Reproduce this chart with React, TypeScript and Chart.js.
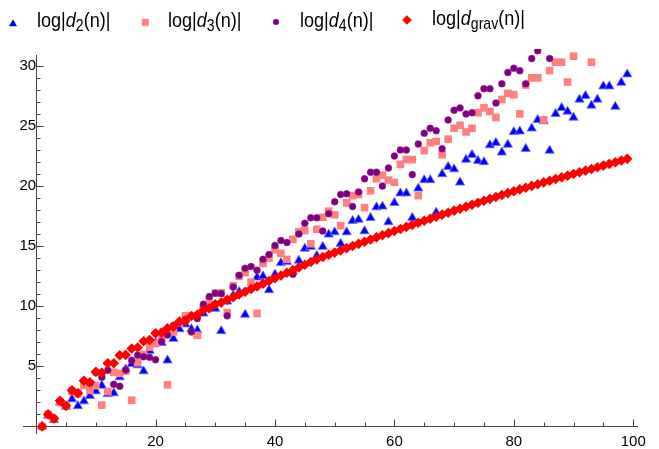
import React, { useEffect, useRef } from "react";
import { Chart, registerables } from "chart.js";

Chart.register(...registerables);

// n = 1..99
const N: number[] = Array.from({ length: 99 }, (_, i) => i + 1);

const D2: number[] = [
  0.0, 0.9, 0.55, 2.0, 1.65, 2.27, 1.7, 2.1, 2.55, 2.93,
  3.4, 2.7, 2.77, 4.1, 4.75, 5.2, 5.1, 4.6, 6.3, 6.95,
  6.95, 5.5, 7.3, 8.1, 8.5, 8.1, 8.0, 9.4, 10.0, 9.8,
  7.94, 10.4, 10.9, 11.2, 9.3, 11.6, 12.4, 12.5, 11.35, 12.65,
  13.6, 13.7, 12.9, 13.8, 14.8, 14.95, 14.2, 14.95, 15.97, 16.16,
  15.2, 16.16, 17.1, 17.2, 16.25, 17.35, 18.24, 18.3, 17.0, 18.6,
  19.4, 19.4, 17.36, 19.8, 20.5, 20.5, 17.8, 21.0, 21.6, 21.4,
  20.3, 22.2, 22.6, 22.1, 22.0, 23.4, 23.6, 22.8, 23.45, 24.5,
  24.55, 23.1, 24.8, 25.5, 25.4, 22.95, 26.0, 26.5, 26.2, 25.7,
  27.2, 27.5, 26.7, 27.2, 28.3, 28.3, 26.6, 28.6, 29.3,
];

const D3: number[] = [
  0.0, 1.0, 0.6, 2.0, 1.7, 2.9, 2.7, 3.4, 3.0, 3.4,
  1.77, 2.9, 4.5, 4.4, 4.6, 2.18, 5.3, 6.0, 6.6, 6.9,
  7.3, 3.46, 7.86, 8.6, 9.2, 9.2, 7.58, 9.8, 10.4, 11.1,
  11.1, 9.47, 11.7, 12.5, 12.8, 12.0, 9.4, 13.56, 14.0, 14.7,
  14.4, 13.9, 15.56, 16.2, 16.3, 15.2, 16.4, 17.4, 17.9, 17.6,
  16.7, 18.6, 19.2, 19.3, 18.2, 19.6, 20.6, 20.9, 20.5, 20.3,
  21.8, 22.2, 22.2, 19.2, 22.95, 23.6, 23.7, 22.6, 23.9, 24.8,
  25.05, 24.5, 24.8, 26.1, 26.5, 26.2, 25.7, 27.2, 27.7, 27.6,
  26.0, 28.4, 29.0, 29.0, 25.5, 29.6, 30.3, 30.3, 28.65, 30.8,
  31.7, 31.9, 30.3, 31.9, 32.3, 32.6, 31.8, 33.0, 33.3,
];

const D4: number[] = [
  0.0, 1.0, 0.6, 2.1, 1.7, 3.0, 2.8, 3.8, 3.6, 4.48,
  4.1, 4.68, 3.5, 3.35, 4.7, 5.5, 5.92, 5.8, 5.75, 5.55,
  7.06, 7.6, 8.4, 8.7, 8.9, 7.86, 8.97, 10.16, 10.8, 11.07,
  11.05, 9.2, 11.6, 12.57, 13.15, 13.3, 13.0, 13.9, 14.3, 15.06,
  15.47, 15.3, 12.65, 16.0, 16.9, 17.36, 17.36, 16.25, 17.7, 18.7,
  19.3, 19.35, 18.3, 19.5, 20.6, 21.15, 21.15, 20.0, 21.5, 22.5,
  23.0, 23.0, 20.95, 23.5, 24.4, 24.8, 24.6, 23.1, 25.5, 26.3,
  26.5, 26.0, 26.1, 27.5, 28.1, 28.1, 26.9, 28.5, 29.45, 29.8,
  29.6, 28.5, 30.6, 31.25, 31.35, 30.6, 31.5, 32.0, 32.2, 32.0,
  31.45, 32.6, 32.9, 33.1, 32.4, 33.5, 33.8, 34.0, 34.2,
];

const DGRAV: number[] = [
  0.0, 1.0, 0.66, 2.13, 1.71, 3.0, 2.77, 3.8, 3.68, 4.54,
  4.48, 5.26, 5.26, 5.92, 5.95, 6.48, 6.56, 7.08, 7.19, 7.75,
  7.8, 8.16, 8.3, 8.72, 8.77, 9.19, 9.3, 9.66, 9.83, 10.16,
  10.3, 10.53, 10.75, 10.98, 11.2, 11.43, 11.65, 11.88, 12.1, 12.33,
  12.55, 12.78, 13.0, 13.23, 13.45, 13.68, 13.9, 14.09, 14.28, 14.46,
  14.65, 14.83, 15.01, 15.19, 15.37, 15.55, 15.73, 15.91, 16.08, 16.26,
  16.43, 16.6, 16.77, 16.94, 17.11, 17.28, 17.45, 17.62, 17.78, 17.95,
  18.11, 18.28, 18.44, 18.61, 18.77, 18.93, 19.09, 19.25, 19.41, 19.57,
  19.72, 19.86, 20.01, 20.15, 20.3, 20.44, 20.58, 20.72, 20.86, 21.0,
  21.14, 21.28, 21.42, 21.56, 21.7, 21.84, 21.98, 22.12, 22.26,
];

const X_LABEL_TICKS = [20, 40, 60, 80, 100];
const Y_LABEL_TICKS = [5, 10, 15, 20, 25, 30];
const X_MINOR_TICKS = [5, 10, 15, 20, 25, 30, 35, 40, 45, 50, 55, 60, 65, 70, 75, 80, 85, 90, 95, 100];
const Y_MINOR_TICKS = [1, 2, 3, 4, 5, 6, 7, 8, 9, 10, 11, 12, 13, 14, 15, 16, 17, 18, 19, 20, 21, 22, 23, 24, 25, 26, 27, 28, 29, 30];

const SERIES_LABEL_SUBS = ["2", "3", "4", "grav"];

const BLUE = "#0000ff";
const PINK = "#ff8080";
const PURPLE = "#800080";
const RED = "#ff0000";
const AXIS = "#444444";
const FONT = '"Liberation Sans", Arial, Helvetica, sans-serif';

const toPts = (vals: number[]) => N.map((n, i) => ({ x: n, y: vals[i] }));

const axesPlugin = {
  id: "mmaAxes",
  beforeDatasetsDraw(chart: any) {
    const { ctx, chartArea, scales } = chart;
    const xs = scales.x;
    const ys = scales.y;
    const x0 = Math.round(xs.getPixelForValue(0)) + 0.5;
    const y0 = Math.round(ys.getPixelForValue(0)) + 0.5;
    ctx.save();
    ctx.strokeStyle = AXIS;
    ctx.lineWidth = 1;
    ctx.beginPath();
    ctx.moveTo(chartArea.left, y0);
    ctx.lineTo(chartArea.right, y0);
    ctx.moveTo(x0, chartArea.top);
    ctx.lineTo(x0, chartArea.bottom);
    for (const v of X_MINOR_TICKS) {
      const px = Math.round(xs.getPixelForValue(v)) + 0.5;
      const len = v % 20 === 0 ? 7 : 4;
      ctx.moveTo(px, y0);
      ctx.lineTo(px, y0 - len);
    }
    for (const v of Y_MINOR_TICKS) {
      const py = Math.round(ys.getPixelForValue(v)) + 0.5;
      const len = v % 5 === 0 ? 7 : 4;
      ctx.moveTo(x0, py);
      ctx.lineTo(x0 + len, py);
    }
    ctx.stroke();
    ctx.restore();
  },
};

function Marker({ kind }: { kind: number }) {
  if (kind === 0)
    return (
      <svg width="10" height="10" style={{ display: "block" }}>
        <polygon points="5,1.2 9,8.3 1,8.3" fill={BLUE} />
      </svg>
    );
  if (kind === 1)
    return (
      <svg width="10" height="10" style={{ display: "block" }}>
        <rect x="1.8" y="1.8" width="7" height="7" fill={PINK} />
      </svg>
    );
  if (kind === 2)
    return (
      <svg width="10" height="10" style={{ display: "block" }}>
        <circle cx="5" cy="5" r="3" fill={PURPLE} />
      </svg>
    );
  return (
    <svg width="12" height="12" style={{ display: "block" }}>
      <polygon points="6,1.2 10.8,6 6,10.8 1.2,6" fill={RED} />
    </svg>
  );
}

const LEGEND_POS = [
  { mx: 8, my: 18, tx: 37, ty: 9 },
  { mx: 139.5, my: 16.5, tx: 168, ty: 9 },
  { mx: 271, my: 16.8, tx: 300, ty: 9 },
  { mx: 401, my: 13.5, tx: 432, ty: 7 },
];

export default function App() {
  const canvasRef = useRef<HTMLCanvasElement | null>(null);

  useEffect(() => {
    const canvas = canvasRef.current;
    if (!canvas) return;
    const tickFont = { family: FONT, size: 15 };
    const clip = { left: 10, right: 10, top: 6, bottom: 10 };
    const chart = new Chart(canvas, {
      type: "scatter",
      data: {
        datasets: [
          {
            label: "log|d2(n)|",
            data: toPts(D2),
            pointStyle: "triangle",
            pointRadius: 5.3,
            backgroundColor: BLUE,
            borderColor: "rgba(110,110,255,0.85)",
            borderWidth: 1,
            order: 3,
            clip,
          },
          {
            label: "log|d3(n)|",
            data: toPts(D3),
            pointStyle: "rect",
            pointRadius: 5.4,
            backgroundColor: PINK,
            borderColor: PINK,
            borderWidth: 0,
            order: 2,
            clip,
          },
          {
            label: "log|d4(n)|",
            data: toPts(D4),
            pointStyle: "circle",
            pointRadius: 3.5,
            backgroundColor: PURPLE,
            borderColor: "rgba(150,60,150,0.6)",
            borderWidth: 0.6,
            order: 1,
            clip,
          },
          {
            label: "log|dgrav(n)|",
            data: toPts(DGRAV),
            pointStyle: "rectRot",
            pointRadius: 5.3,
            backgroundColor: RED,
            borderColor: RED,
            borderWidth: 0,
            order: 0,
            clip,
          },
        ],
      },
      options: {
        animation: false,
        responsive: false,
        devicePixelRatio: 1,
        layout: { padding: { left: 23, right: 21, top: 55, bottom: 14 } },
        plugins: {
          legend: { display: false },
          tooltip: { enabled: false },
        },
        scales: {
          x: {
            type: "linear",
            min: -2.2,
            max: 100.8,
            position: { y: 0 } as any,
            grid: { display: false, drawTicks: false },
            border: { display: false },
            ticks: {
              font: tickFont,
              color: "#000",
              padding: 6,
              maxRotation: 0,
              autoSkip: false,
            },
            afterBuildTicks: (s: any) => {
              s.ticks = X_LABEL_TICKS.map((v) => ({ value: v }));
            },
          },
          y: {
            type: "linear",
            min: -0.63,
            max: 30.9,
            position: { x: 0 } as any,
            grid: { display: false, drawTicks: false },
            border: { display: false },
            ticks: {
              font: tickFont,
              color: "#000",
              padding: 6,
              autoSkip: false,
            },
            afterBuildTicks: (s: any) => {
              s.ticks = Y_LABEL_TICKS.map((v) => ({ value: v }));
            },
          },
        },
      },
      plugins: [axesPlugin],
    } as any);
    return () => chart.destroy();
  }, []);

  return (
    <div style={{ position: "absolute", left: 0, top: 0, width: 659, height: 449, background: "#fff", overflow: "hidden" }}>
      <canvas ref={canvasRef} width={659} height={449} style={{ position: "absolute", left: 0, top: 0 }} />
      {SERIES_LABEL_SUBS.map((sub, i) => {
        const p = LEGEND_POS[i];
        return (
          <React.Fragment key={sub}>
            <div style={{ position: "absolute", left: p.mx, top: p.my }}>
              <Marker kind={i} />
            </div>
            <div
              style={{
                position: "absolute",
                left: p.tx,
                top: p.ty,
                font: `21px ${FONT}`,
                lineHeight: "21px",
                whiteSpace: "nowrap",
                color: "#000",
                transform: "scaleX(0.86)",
                transformOrigin: "0 0",
              }}
            >
              log|<i>d</i>
              <span style={{ position: "relative", top: 4, fontSize: "0.78em" }}>{sub}</span>(n)|
            </div>
          </React.Fragment>
        );
      })}
    </div>
  );
}
